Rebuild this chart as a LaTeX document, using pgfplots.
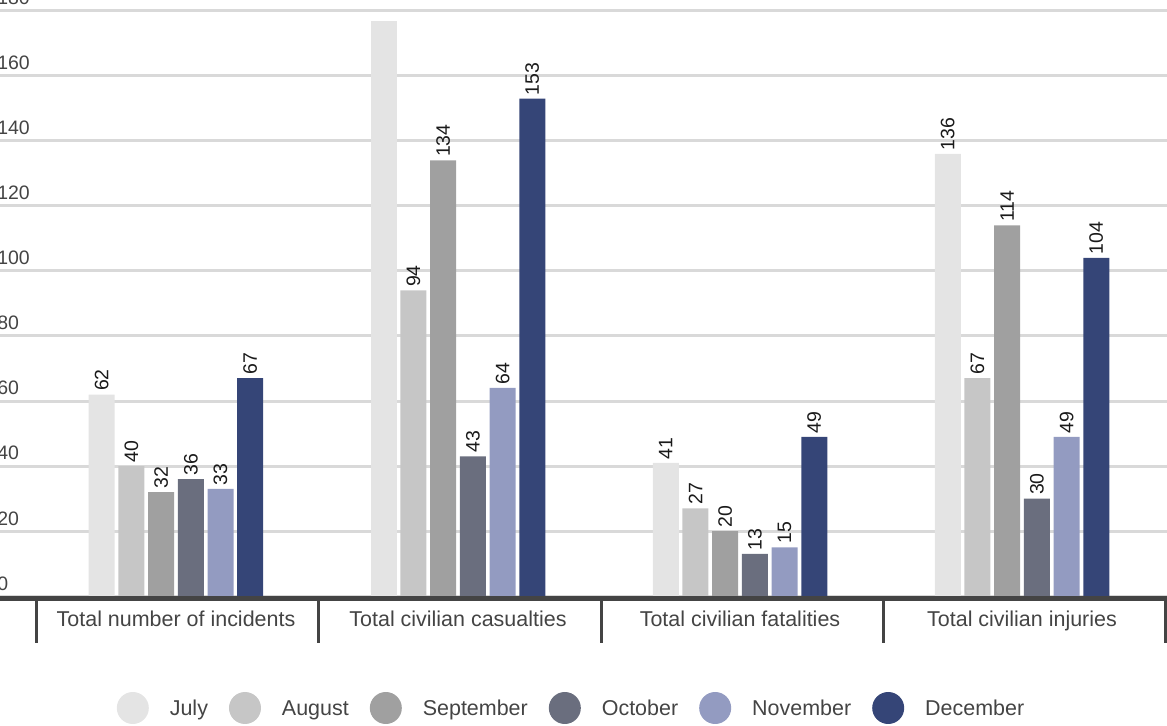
\documentclass[border=0pt]{standalone}
\usepackage{fontspec}
\setmainfont{Liberation Sans}
\usepackage{pgfplots}
\usepackage{pgfplotstable}
\pgfplotsset{compat=1.18}

\definecolor{cJul}{HTML}{E4E4E4}
\definecolor{cAug}{HTML}{C6C6C6}
\definecolor{cSep}{HTML}{A0A0A0}
\definecolor{cOct}{HTML}{6A6E7E}
\definecolor{cNov}{HTML}{939BC1}
\definecolor{cDec}{HTML}{354577}
\definecolor{gridgray}{HTML}{D9D9D9}
\definecolor{axisdark}{HTML}{444444}
\definecolor{labgray}{HTML}{444444}
\definecolor{valblack}{HTML}{1A1A1A}

% Monthly figures per category
\pgfplotstableread{
cat jul aug sep oct nov dec
0   62  40  32  36  33  67
1   177 94  134 43  64  153
2   41  27  20  13  15  49
3   136 67  114 30  49  104
}\datatable

\newcommand{\ticksize}{\fontsize{14.6pt}{17pt}\selectfont}
\newcommand{\catsize}{\fontsize{16.1pt}{19pt}\selectfont}

\begin{document}
\begin{tikzpicture}
\begin{axis}[
  scale only axis,
  width=881.25pt, height=448.5pt,
  anchor=south west, at={(-3.75pt,96.75pt)},
  xmin=-0.6418, xmax=3.5248,
  ymin=0, ymax=184,
  clip=false,
  ybar, bar width=19.5pt,
  axis line style={draw=none},
  major tick length=0pt,
  xtick={0,1,2,3},
  xticklabels={Total number of incidents, Total civilian casualties, Total civilian fatalities, Total civilian injuries},
  xticklabel style={anchor=base, yshift=-22.5pt, inner sep=0pt, font=\catsize, text=labgray},
  ytick={0,20,...,180},
  yticklabel style={anchor=base west, inner sep=0pt, xshift=1.5pt, yshift=4.5pt, font=\ticksize, text=labgray},
  /pgf/number format/assume math mode=true,
  ymajorgrids,
  grid style={line width=2.25pt, gridgray},
  nodes near coords style={rotate=90, anchor=west, inner sep=2.5pt, font=\ticksize, text=valblack},
  legend columns=6,
  legend cell align=left,
  legend style={
    at={(0.4898,-0.18729)}, anchor=center,
    draw=none, fill=none, inner sep=0pt,
    column sep=15.75pt,
    font=\catsize, text=labgray,
    nodes={inner sep=0pt, text height=11.6pt, text depth=0pt},
  },
  legend image code/.code={\fill[#1] (12pt,0.2pt) circle (12pt);},
]
% the tallest July bar carries no value label
\addplot[fill=cJul, draw=none, bar shift=-55.69pt, forget plot] table[x=cat, y=jul, restrict x to domain=0.5:1.5] {\datatable};
\addplot[fill=cJul, draw=none, bar shift=-55.69pt, nodes near coords, skip coords between index={1}{2}] table[x=cat, y=jul] {\datatable};
\addlegendentry{July}
\addplot[fill=cAug, draw=none, bar shift=-33.41pt, nodes near coords] table[x=cat, y=aug] {\datatable};
\addlegendentry{August}
\addplot[fill=cSep, draw=none, bar shift=-11.14pt, nodes near coords] table[x=cat, y=sep] {\datatable};
\addlegendentry{September}
\addplot[fill=cOct, draw=none, bar shift=11.14pt, nodes near coords] table[x=cat, y=oct] {\datatable};
\addlegendentry{October}
\addplot[fill=cNov, draw=none, bar shift=33.41pt, nodes near coords] table[x=cat, y=nov] {\datatable};
\addlegendentry{November}
\addplot[fill=cDec, draw=none, bar shift=55.69pt, nodes near coords] table[x=cat, y=dec] {\datatable};
\addlegendentry{December}

% base line and category separators
\draw[line width=3.75pt, axisdark] (axis cs:-0.66,-0.77) -- (axis cs:3.53,-0.77);
\pgfplotsinvokeforeach{-0.4929,0.5071,1.5071,2.5071,3.5071}{
  \draw[line width=2.25pt, axisdark] (axis cs:#1,-0.5) -- (axis cs:#1,-14.46);
}
\end{axis}
\pgfresetboundingbox
\path[use as bounding box] (0pt,0pt) rectangle (875.25pt,543.75pt);
\end{tikzpicture}
\end{document}
